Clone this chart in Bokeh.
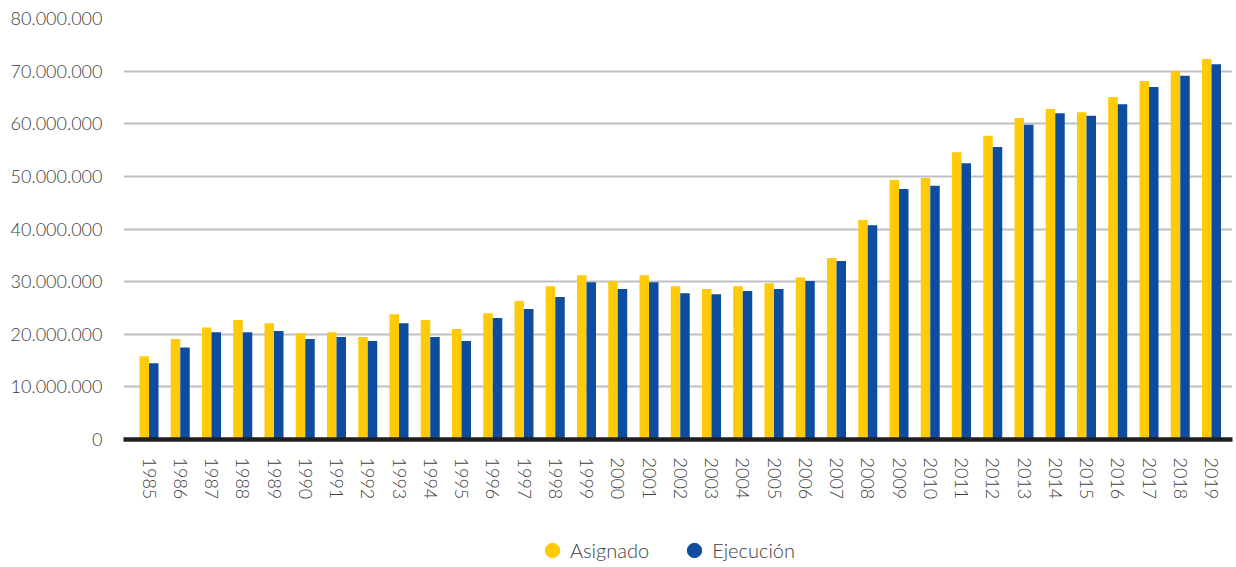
from bokeh.plotting import figure
from bokeh.layouts import column
from bokeh.models import ColumnDataSource, FixedTicker, Legend, LegendItem, Range1d
from bokeh.transform import dodge
from bokeh.embed import file_html
from bokeh.resources import INLINE

# ---- data ----
years = ["1985", "1986", "1987", "1988", "1989", "1990", "1991", "1992", "1993", "1994",
         "1995", "1996", "1997", "1998", "1999", "2000", "2001", "2002", "2003", "2004",
         "2005", "2006", "2007", "2008", "2009", "2010", "2011", "2012", "2013", "2014",
         "2015", "2016", "2017", "2018", "2019"]

asignado = [15_800_000, 19_100_000, 21_300_000, 22_700_000, 22_100_000, 20_200_000, 20_400_000,
            19_500_000, 23_800_000, 22_700_000, 21_000_000, 24_000_000, 26_300_000, 29_100_000,
            31_200_000, 30_100_000, 31_200_000, 29_100_000, 28_600_000, 29_100_000, 29_700_000,
            30_800_000, 34_500_000, 41_700_000, 49_300_000, 49_700_000, 54_600_000, 57_700_000,
            61_100_000, 62_800_000, 62_200_000, 65_100_000, 68_100_000, 70_000_000, 72_300_000]

ejecucion = [14_500_000, 17_500_000, 20_400_000, 20_400_000, 20_600_000, 19_100_000, 19_500_000,
             18_700_000, 22_100_000, 19_500_000, 18_700_000, 23_100_000, 24_800_000, 27_100_000,
             29_900_000, 28_600_000, 29_900_000, 27_800_000, 27_600_000, 28_200_000, 28_600_000,
             30_100_000, 33_900_000, 40_700_000, 47_600_000, 48_200_000, 52_500_000, 55_600_000,
             59_800_000, 62_000_000, 61_500_000, 63_700_000, 67_000_000, 69_100_000, 71_300_000]

y_ticks = [0, 10_000_000, 20_000_000, 30_000_000, 40_000_000,
           50_000_000, 60_000_000, 70_000_000, 80_000_000]
y_tick_labels = ["0", "10.000.000", "20.000.000", "30.000.000", "40.000.000",
                 "50.000.000", "60.000.000", "70.000.000", "80.000.000"]

series_labels = ["Asignado", "Ejecución"]
colors = ["#FECA0A", "#0D4C9F"]

# ---- main figure ----
FONT = "'Lato Light', Lato"
TXT = "#404040"

idx = list(range(len(years)))
src = ColumnDataSource(data=dict(x=idx, asignado=asignado, ejecucion=ejecucion))

p = figure(width=1236, height=504, output_backend="svg", toolbar_location=None,
           x_range=Range1d(-0.816, 34.672), y_range=Range1d(0, 80_000_000),
           min_border_left=123, min_border_right=4, min_border_top=18, min_border_bottom=65)
p.outline_line_color = None

bw = 0.304
p.vbar(x=dodge("x", -0.152, range=p.x_range), top="asignado", width=bw, source=src,
       fill_color=colors[0], line_color=None)
p.vbar(x=dodge("x", 0.152, range=p.x_range), top="ejecucion", width=bw, source=src,
       fill_color=colors[1], line_color=None)

p.xaxis.ticker = FixedTicker(ticks=idx)
p.xaxis.major_label_overrides = {i: y for i, y in zip(idx, years)}
p.xaxis.major_label_orientation = "vertical"
p.xaxis.major_label_text_font = FONT
p.xaxis.major_label_text_font_size = "18px"
p.xaxis.major_label_text_color = TXT
p.xaxis.major_label_standoff = 12
p.xaxis.major_tick_line_color = None
p.xaxis.minor_tick_line_color = None
p.xaxis.axis_line_color = "#231F20"
p.xaxis.axis_line_width = 4.5

p.yaxis.ticker = FixedTicker(ticks=y_ticks)
p.yaxis.major_label_overrides = {t: l for t, l in zip(y_ticks, y_tick_labels)}
p.yaxis.major_label_text_font = FONT
p.yaxis.major_label_text_font_size = "18px"
p.yaxis.major_label_text_color = TXT
p.yaxis.major_label_standoff = 15
p.yaxis.major_tick_line_color = None
p.yaxis.minor_tick_line_color = None
p.yaxis.axis_line_color = None

p.xgrid.grid_line_color = None
p.ygrid.grid_line_color = "#BFBFC3"
p.ygrid.grid_line_width = 2

# ---- legend strip (frame aligned with the main plot's frame) ----
lg = figure(width=1236, height=63, output_backend="svg", toolbar_location=None,
            x_range=Range1d(0, 1), y_range=Range1d(0, 1),
            x_axis_type=None, y_axis_type=None,
            min_border_left=123, min_border_right=4, min_border_top=0, min_border_bottom=0)
lg.outline_line_color = None
lg.xgrid.visible = False
lg.ygrid.visible = False
# proxy renderers: the series values lie far outside this strip's 0..1 range, so only
# their legend glyphs are seen
ra = lg.scatter(x="x", y="asignado", source=src, marker="circle",
                fill_color=colors[0], line_color=colors[0])
rb = lg.scatter(x="x", y="ejecucion", source=src, marker="circle",
                fill_color=colors[1], line_color=colors[1])

legend = Legend(items=[LegendItem(label=series_labels[0], renderers=[ra], index=0),
                       LegendItem(label=series_labels[1], renderers=[rb], index=0)],
                orientation="horizontal", location=(411, -3),
                glyph_width=36, glyph_height=40, label_standoff=0, spacing=27,
                padding=0, margin=0, border_line_color=None, background_fill_alpha=0,
                label_text_font=FONT, label_text_font_size="20px", label_text_color=TXT)
lg.add_layout(legend)

layout = column(p, lg, spacing=0)
open("out.html", "w").write(file_html(layout, INLINE))
